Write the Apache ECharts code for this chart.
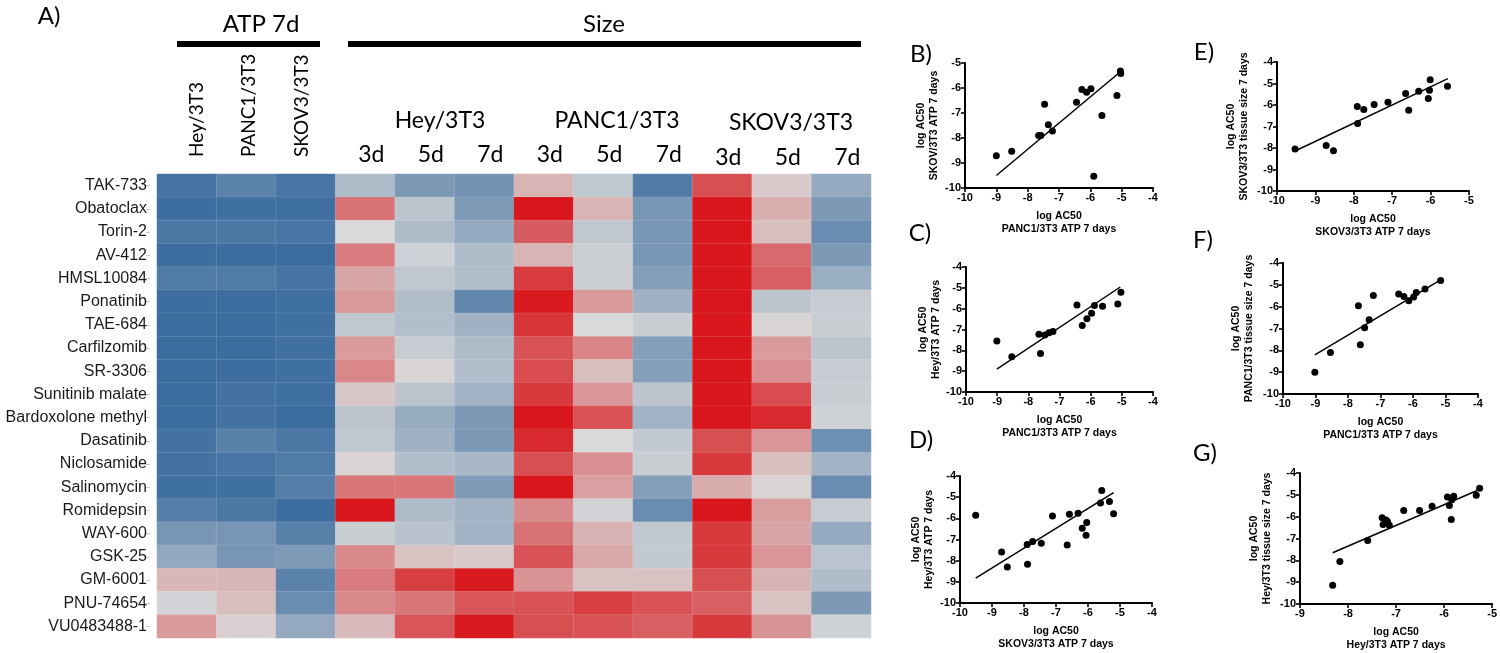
<!DOCTYPE html>
<html><head><meta charset="utf-8">
<script src="https://cdn.jsdelivr.net/npm/echarts@6/dist/echarts.min.js"></script>
<style>html,body{margin:0;padding:0;background:#fff}#c{width:1500px;height:653px}</style>
</head><body><div id="c"></div>
<script>
// ---------------- DATA ----------------
const drugs = ['TAK-733','Obatoclax','Torin-2','AV-412','HMSL10084','Ponatinib','TAE-684','Carfilzomib','SR-3306','Sunitinib malate','Bardoxolone methyl','Dasatinib','Niclosamide','Salinomycin','Romidepsin','WAY-600','GSK-25','GM-6001','PNU-74654','VU0483488-1'];
const heatColumns = ['ATP Hey/3T3','ATP PANC1/3T3','ATP SKOV3/3T3','Hey 3d','Hey 5d','Hey 7d','PANC1 3d','PANC1 5d','PANC1 7d','SKOV3 3d','SKOV3 5d','SKOV3 7d'];
const atpHeaders = ['Hey/3T3','PANC1/3T3','SKOV3/3T3'];
const sizeGroups = ['Hey/3T3','PANC1/3T3','SKOV3/3T3'];
const dayLabels = ['3d','5d','7d'];
// relative score per drug (row) and column: -1 blue ... 0 grey ... +1 red
const heatValues = [
  [-0.92,-0.78,-0.90,-0.27,-0.58,-0.63, 0.19,-0.16,-0.84, 0.71, 0.07,-0.42],
  [-0.97,-0.95,-0.95, 0.53,-0.18,-0.57, 1.00, 0.19,-0.60, 1.00, 0.22,-0.58],
  [-0.88,-0.87,-0.90, 0.00,-0.27,-0.43, 0.64,-0.16,-0.60, 1.00, 0.14,-0.69],
  [-0.97,-0.97,-0.98, 0.48,-0.07,-0.27, 0.19,-0.09,-0.60, 1.00, 0.57,-0.58],
  [-0.85,-0.85,-0.92, 0.26,-0.16,-0.24, 0.81,-0.09,-0.52, 1.00, 0.62,-0.39],
  [-0.97,-0.97,-0.95, 0.32,-0.25,-0.73, 0.98, 0.32,-0.36, 1.00,-0.18,-0.12],
  [-0.98,-0.98,-0.95,-0.16,-0.24,-0.36, 0.84, 0.00,-0.10, 1.00, 0.02,-0.10],
  [-0.98,-0.98,-0.95, 0.32,-0.12,-0.27, 0.69, 0.43,-0.52, 1.00, 0.32,-0.18],
  [-0.98,-0.97,-0.95, 0.42, 0.02,-0.24, 0.73, 0.14,-0.52, 1.00, 0.38,-0.12],
  [-0.98,-0.93,-0.95, 0.09,-0.18,-0.34, 0.82, 0.35,-0.18, 1.00, 0.73,-0.10],
  [-0.98,-0.93,-0.98,-0.18,-0.40,-0.58, 1.00, 0.69,-0.34, 1.00, 0.90,-0.06],
  [-0.93,-0.80,-0.88,-0.16,-0.36,-0.58, 0.90, 0.00,-0.14, 0.71, 0.35,-0.67],
  [-0.93,-0.90,-0.85, 0.03,-0.24,-0.30, 0.71, 0.38,-0.10, 0.82, 0.14,-0.34],
  [-0.95,-0.95,-0.82, 0.51, 0.51,-0.56, 1.00, 0.29,-0.52, 0.23, 0.03,-0.69],
  [-0.82,-0.88,-0.97, 1.00,-0.27,-0.34, 0.41,-0.05,-0.69, 1.00, 0.31,-0.12],
  [-0.61,-0.61,-0.80,-0.10,-0.20,-0.34, 0.53, 0.20,-0.16, 0.82, 0.26,-0.42],
  [-0.44,-0.61,-0.57, 0.41, 0.12, 0.07, 0.69, 0.25,-0.14, 0.82, 0.35,-0.19],
  [ 0.18, 0.18,-0.78, 0.48, 0.79, 0.98, 0.36, 0.12, 0.12, 0.71, 0.20,-0.26],
  [-0.05, 0.14,-0.69, 0.41, 0.51, 0.67, 0.69, 0.79, 0.69, 0.62, 0.12,-0.58],
  [ 0.32, 0.05,-0.43, 0.16, 0.67, 0.98, 0.71, 0.69, 0.62, 0.82, 0.36,-0.06]
];

// Scatter panels: log AC50 values
const B_x = [-9.00,-8.51,-7.65,-7.58,-7.46,-7.34,-7.21,-6.44,-6.27,-6.12,-5.98,-5.89,-5.63,-5.15,-5.04,-5.03];
const B_y = [-8.71,-8.53,-7.90,-7.90,-6.65,-7.47,-7.72,-6.57,-6.06,-6.17,-6.03,-9.53,-7.10,-6.30,-5.32,-5.42];
const B_fit = [[-9.00,-9.50],[-5.05,-5.36]];

const C_x = [-9.01,-8.53,-7.66,-7.61,-7.47,-7.34,-7.21,-6.44,-6.27,-6.12,-5.97,-5.88,-5.62,-5.13,-5.03];
const C_y = [-7.55,-8.31,-7.23,-8.15,-7.26,-7.15,-7.10,-5.82,-6.81,-6.48,-6.22,-5.85,-5.88,-5.77,-5.21];
const C_fit = [[-9.01,-8.90],[-5.05,-4.96]];

const D_x = [-9.51,-8.70,-8.52,-7.90,-7.89,-7.73,-7.46,-7.11,-6.65,-6.58,-6.31,-6.18,-6.06,-6.04,-5.61,-5.57,-5.33,-5.20];
const D_y = [-5.86,-7.59,-8.30,-7.24,-8.17,-7.10,-7.18,-5.89,-7.26,-5.81,-5.76,-6.47,-6.80,-6.20,-5.28,-4.68,-5.21,-5.78];
const D_fit = [[-9.51,-8.82],[-5.20,-4.79]];

const E_x = [-9.53,-8.72,-8.53,-7.91,-7.90,-7.74,-7.47,-7.11,-6.65,-6.57,-6.31,-6.06,-6.03,-6.01,-5.56];
const E_y = [-8.05,-7.88,-8.13,-6.07,-6.86,-6.21,-5.98,-5.87,-5.47,-6.24,-5.36,-5.70,-5.31,-4.82,-5.13];
const E_fit = [[-9.53,-8.14],[-5.55,-4.77]];

const F_x = [-9.02,-8.54,-7.68,-7.62,-7.49,-7.35,-7.22,-6.44,-6.28,-6.13,-5.98,-5.90,-5.63,-5.15];
const F_y = [-9.00,-8.10,-5.96,-7.74,-6.97,-6.60,-5.49,-5.42,-5.53,-5.73,-5.56,-5.35,-5.19,-4.80];
const F_fit = [[-9.02,-8.21],[-5.15,-4.77]];

const G_x = [-8.32,-8.17,-7.59,-7.29,-7.27,-7.21,-7.18,-7.14,-6.84,-6.51,-6.25,-5.93,-5.89,-5.84,-5.85,-5.80,-5.33,-5.26];
const G_y = [-9.14,-8.05,-7.09,-6.05,-6.36,-6.15,-6.22,-6.39,-5.72,-5.72,-5.52,-5.10,-5.49,-5.22,-6.13,-5.07,-5.02,-4.70];
const G_fit = [[-8.32,-7.65],[-5.30,-4.79]];

const panelLetters = ['B)','C)','D)','E)','F)','G)'];
const xTitles = ['PANC1/3T3 ATP 7 days','PANC1/3T3 ATP 7 days','SKOV3/3T3 ATP 7 days','SKOV3/3T3 ATP 7 days','PANC1/3T3 ATP 7 days','Hey/3T3 ATP 7 days'];
const yTitles = ['SKOV/3T3 ATP 7 days','Hey/3T3 ATP 7 days','Hey/3T3 ATP 7 days','SKOV3/3T3 tissue size 7 days','PANC1/3T3 tissue size 7 days','Hey/3T3 tissue size 7 days'];
const xRanges = [[-10,-4],[-10,-4],[-10,-4],[-10,-5],[-10,-4],[-9,-5]];
const yRanges = [[-10,-5],[-10,-4],[-10,-4],[-10,-4],[-10,-4],[-10,-4]];

// ---------------- LAYOUT ----------------
const heatGrid = {left:157, top:174, width:714, height:464};
const panelGrids = [
  {left:965, top:63, width:188, height:125},
  {left:966, top:267, width:187, height:125},
  {left:960, top:476, width:192, height:127},
  {left:1277, top:62, width:192, height:129},
  {left:1283, top:263, width:195, height:131},
  {left:1300, top:473, width:198, height:131}
];
const letterPos = [[921,54],[920,233],[921,440],[1204,52],[1203,240],[1205,453]];
const yNameGap = [25,24,25,27,28,27];

const scatterX = [B_x,C_x,D_x,E_x,F_x,G_x];
const scatterY = [B_y,C_y,D_y,E_y,F_y,G_y];
const fits = [B_fit,C_fit,D_fit,E_fit,F_fit,G_fit];

const chart = echarts.init(document.getElementById('c'), null, {renderer:'canvas'});

const heatData = [];
heatValues.forEach((row, r) => row.forEach((v, c) => heatData.push([c, r, v])));

const grids = [heatGrid].concat(panelGrids);
const xAxes = [{
  gridIndex:0, type:'category', data:heatColumns, show:false
}];
const yAxes = [{
  gridIndex:0, type:'category', data:drugs, inverse:true, offset:7,
  axisLine:{show:false},
  axisTick:{show:true, alignWithLabel:true, length:4, lineStyle:{color:'#c8c8c8', width:1}},
  axisLabel:{color:'#1a1a1a', fontSize:16, fontFamily:'Liberation Sans, Arial, sans-serif', margin:3}
}];
const series = [{
  type:'heatmap', xAxisIndex:0, yAxisIndex:0, data:heatData,
  itemStyle:{borderColor:'rgba(255,255,255,0.18)', borderWidth:0.6},
  emphasis:{disabled:true}
}];

const axisFont = 'Liberation Sans, Arial, sans-serif';
panelGrids.forEach((g, i) => {
  const gi = i + 1;
  xAxes.push({
    gridIndex:gi, type:'value', min:xRanges[i][0], max:xRanges[i][1], interval:1,
    axisLine:{show:true, onZero:false, lineStyle:{color:'#000', width:2}},
    axisTick:{show:true, length:4, lineStyle:{color:'#000', width:1.6}},
    axisLabel:{color:'#000', fontWeight:'bold', fontSize:11, fontFamily:axisFont, margin:4, showMinLabel:true, showMaxLabel:true},
    splitLine:{show:false},
    name:'log AC50\n' + xTitles[i], nameLocation:'middle', nameGap:22,
    nameTextStyle:{color:'#000', fontWeight:'bold', fontSize:10.5, fontFamily:axisFont, lineHeight:12.5}
  });
  yAxes.push({
    gridIndex:gi, type:'value', min:yRanges[i][0], max:yRanges[i][1], interval:1,
    axisLine:{show:true, onZero:false, lineStyle:{color:'#000', width:2}},
    axisTick:{show:true, length:4, lineStyle:{color:'#000', width:1.6}},
    axisLabel:{color:'#000', fontWeight:'bold', fontSize:11, fontFamily:axisFont, margin:4, showMinLabel:true, showMaxLabel:true},
    splitLine:{show:false},
    name:'log AC50\n' + yTitles[i], nameLocation:'middle', nameGap:yNameGap[i],
    nameTextStyle:{color:'#000', fontWeight:'bold', fontSize:10.5, fontFamily:axisFont, lineHeight:12.5}
  });
  series.push({
    type:'line', xAxisIndex:gi, yAxisIndex:gi, data:fits[i], symbol:'none',
    lineStyle:{color:'#000', width:1.5}, silent:true, z:2
  });
  series.push({
    type:'scatter', xAxisIndex:gi, yAxisIndex:gi,
    data:scatterX[i].map((x, k) => [x, scatterY[i][k]]),
    symbol:'circle', symbolSize:7, itemStyle:{color:'#000', opacity:1}, z:3, silent:true
  });
});

// ---------- header text / decorations ----------
const hdrFont = 'Lato, "Open Sans", sans-serif';
function txt(t, x, y, size, opts) {
  opts = opts || {};
  return {
    type:'text', x:x, y:y, rotation:opts.rotation || 0, silent:true, z:10,
    style:{text:t, x:0, y:0, fill:'#000', font:(opts.weight || 'normal') + ' ' + size + 'px ' + (opts.family || hdrFont),
      textAlign:opts.align || 'center', textVerticalAlign:opts.valign || 'middle',
      align:opts.align || 'center', verticalAlign:opts.valign || 'middle'}
  };
}
const graphics = [];
graphics.push(txt('A)', 49, 16, 24));
graphics.push(txt('ATP 7d', 261, 24, 24));
graphics.push(txt('Size', 604, 24, 24));
graphics.push({type:'rect', silent:true, shape:{x:177, y:41, width:143, height:6}, style:{fill:'#000'}});
graphics.push({type:'rect', silent:true, shape:{x:348, y:41, width:513, height:6}, style:{fill:'#000'}});
const atpX = [197, 249, 302];
atpHeaders.forEach((t, i) => graphics.push(txt(t, atpX[i], 157, 19, {rotation:Math.PI/2, align:'left', valign:'middle'})));
const groupX = [440, 617, 791];
const groupY = [121, 121, 123];
sizeGroups.forEach((t, i) => graphics.push(txt(t, groupX[i], groupY[i], 23)));
const colW = heatGrid.width / heatColumns.length;
for (let gIdx = 0; gIdx < 3; gIdx++) {
  dayLabels.forEach((d, k) => {
    const col = 3 + gIdx * 3 + k;
    const cx = heatGrid.left + colW * (col + 0.5) + 6;
    graphics.push(txt(d, cx, gIdx === 2 ? 158 : 155, 23));
  });
}
panelLetters.forEach((t, i) => graphics.push(txt(t, letterPos[i][0], letterPos[i][1], 24)));

chart.setOption({
  animation:false,
  backgroundColor:'#fff',
  grid:grids.map(g => Object.assign({containLabel:false}, g)),
  xAxis:xAxes,
  yAxis:yAxes,
  visualMap:{type:'continuous', show:false, seriesIndex:0, min:-1, max:1, dimension:2,
    inRange:{color:['#386a9d','#d9d9d9','#d8161b']}},
  series:series,
  graphic:graphics
});
</script>
</body></html>
